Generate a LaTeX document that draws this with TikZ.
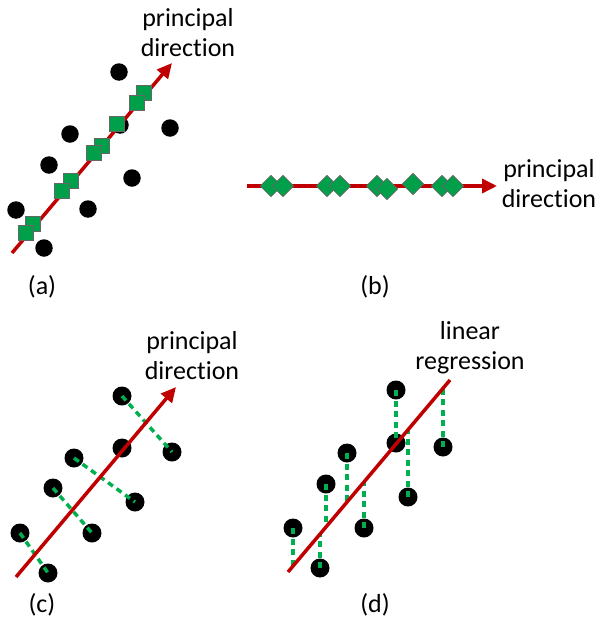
\documentclass[tikz,border=0pt]{standalone}
\usepackage{fontspec}
\setmainfont{Carlito}[Ligatures=NoCommon]
\usetikzlibrary{arrows.meta}
\definecolor{pcred}{RGB}{192,0,0}
\definecolor{ptgreen}{RGB}{0,160,75}
\definecolor{dashgreen}{RGB}{0,176,80}

\begin{document}
\begin{tikzpicture}[x=1pt,y=-1pt,
  dot/.style={circle,fill=black,inner sep=0pt,minimum size=17.5pt},
  bigdot/.style={dot,minimum size=19pt},
  sq/.style={rectangle,fill=ptgreen,draw=black!60,line width=0.7pt,inner sep=0pt,minimum size=15pt},
  dia/.style={sq,rotate=45},
  axis/.style={pcred,line width=3.5pt},
  tip/.style={-{Triangle[length=15pt,width=14pt]}},
  proj/.style={dashgreen,line width=3.5pt,dash pattern=on 6pt off 4.5pt},
  lbl/.style={font=\fontsize{26}{30}\selectfont,align=center}]
\useasboundingbox (0,0) rectangle (599,632);

% (a) points and their projections
\node[dot] (a1) at (119,72) {};
\node[dot] (a2) at (170,128) {};
\node[dot] (a3) at (120,125) {};
\node[dot] (a4) at (70,134) {};
\node[dot] (a5) at (49,165) {};
\node[dot] (a6) at (132,178) {};
\node[dot] (a7) at (16,210) {};
\node[dot] (a8) at (88,209) {};
\node[dot] (a9) at (44,248) {};
\coordinate (as) at (12,253);
\coordinate (ae) at (172,63);
\draw[axis,tip] (as)--(ae);
\node[sq] (q1) at (144,93) {};
\node[sq] (q2) at (137,103) {};
\node[sq] (q3) at (117,124) {};
\node[sq] (q4) at (102,146) {};
\node[sq] (q5) at (94,153) {};
\node[sq] (q6) at (71,181) {};
\node[sq] (q7) at (62,191) {};
\node[sq] (q8) at (33,224) {};
\node[sq] (q9) at (26,233) {};
\node[lbl] (pa) at (188,33) {principal\\direction};
\node[lbl] (la) at (42,287) {(a)};

% (b) projected points on the axis
\coordinate (bs) at (247,186);
\coordinate (be) at (497,186);
\draw[axis,tip] (bs)--(be);
\node[dia] (b1) at (271,186) {};
\node[dia] (b2) at (283,186) {};
\node[dia] (b3) at (327,186) {};
\node[dia] (b4) at (340,186) {};
\node[dia] (b5) at (377,186) {};
\node[dia] (b6) at (387,189) {};
\node[dia] (b7) at (413,184) {};
\node[dia] (b8) at (442,186) {};
\node[dia] (b9) at (453,186) {};
\node[lbl] (pb) at (549,184) {principal\\direction};
\node[lbl] (lb) at (375,287) {(b)};

% (c) orthogonal distances
\node[bigdot] (c1) at (122,396) {};
\node[bigdot] (c2) at (172,452) {};
\node[bigdot] (c3) at (122,448) {};
\node[bigdot] (c4) at (74,458) {};
\node[bigdot] (c5) at (135,502) {};
\node[bigdot] (c6) at (53,488) {};
\node[bigdot] (c7) at (92,533) {};
\node[bigdot] (c8) at (20,533) {};
\node[bigdot] (c9) at (48,573) {};
\draw[proj] (c1.center)--(c2.center);
\draw[proj] (c4.center)--(c5.center);
\draw[proj] (c6.center)--(c7.center);
\draw[proj] (c8.center)--(c9.center);
\coordinate (cs) at (16,577);
\coordinate (ce) at (176,387);
\draw[axis,tip] (cs)--(ce);
\node[lbl] (pc) at (192,356) {principal\\direction};
\node[lbl] (lc) at (42,605) {(c)};

% (d) vertical distances
\node[bigdot] (d1) at (396,390) {};
\node[bigdot] (d2) at (443,447) {};
\node[bigdot] (d3) at (396,443) {};
\node[bigdot] (d4) at (347,453) {};
\node[bigdot] (d5) at (326,484) {};
\node[bigdot] (d6) at (408,497) {};
\node[bigdot] (d7) at (364,528) {};
\node[bigdot] (d8) at (293,528) {};
\node[bigdot] (d9) at (320,568) {};
\coordinate (f1) at (396,444);
\coordinate (f2) at (443,388);
\coordinate (f4) at (347,502);
\coordinate (f5) at (326,527);
\coordinate (f6) at (408,430);
\coordinate (f7) at (364,482);
\coordinate (f8) at (293,566);
\coordinate (f9) at (320,534);
\draw[proj] (d1.center)--(f1);
\draw[proj] (d2.center)--(f2);
\draw[proj] (d4.center)--(f4);
\draw[proj] (d5.center)--(f5);
\draw[proj] (d6.center)--(f6);
\draw[proj] (d7.center)--(f7);
\draw[proj] (d8.center)--(f8);
\draw[proj] (d9.center)--(f9);
\coordinate (ds) at (288,572);
\coordinate (de) at (450,380);
\draw[axis] (ds)--(de);
\node[lbl] (pd) at (470,348) {linear\\regression};
\node[lbl] (ld) at (375,605) {(d)};
\end{tikzpicture}
\end{document}
